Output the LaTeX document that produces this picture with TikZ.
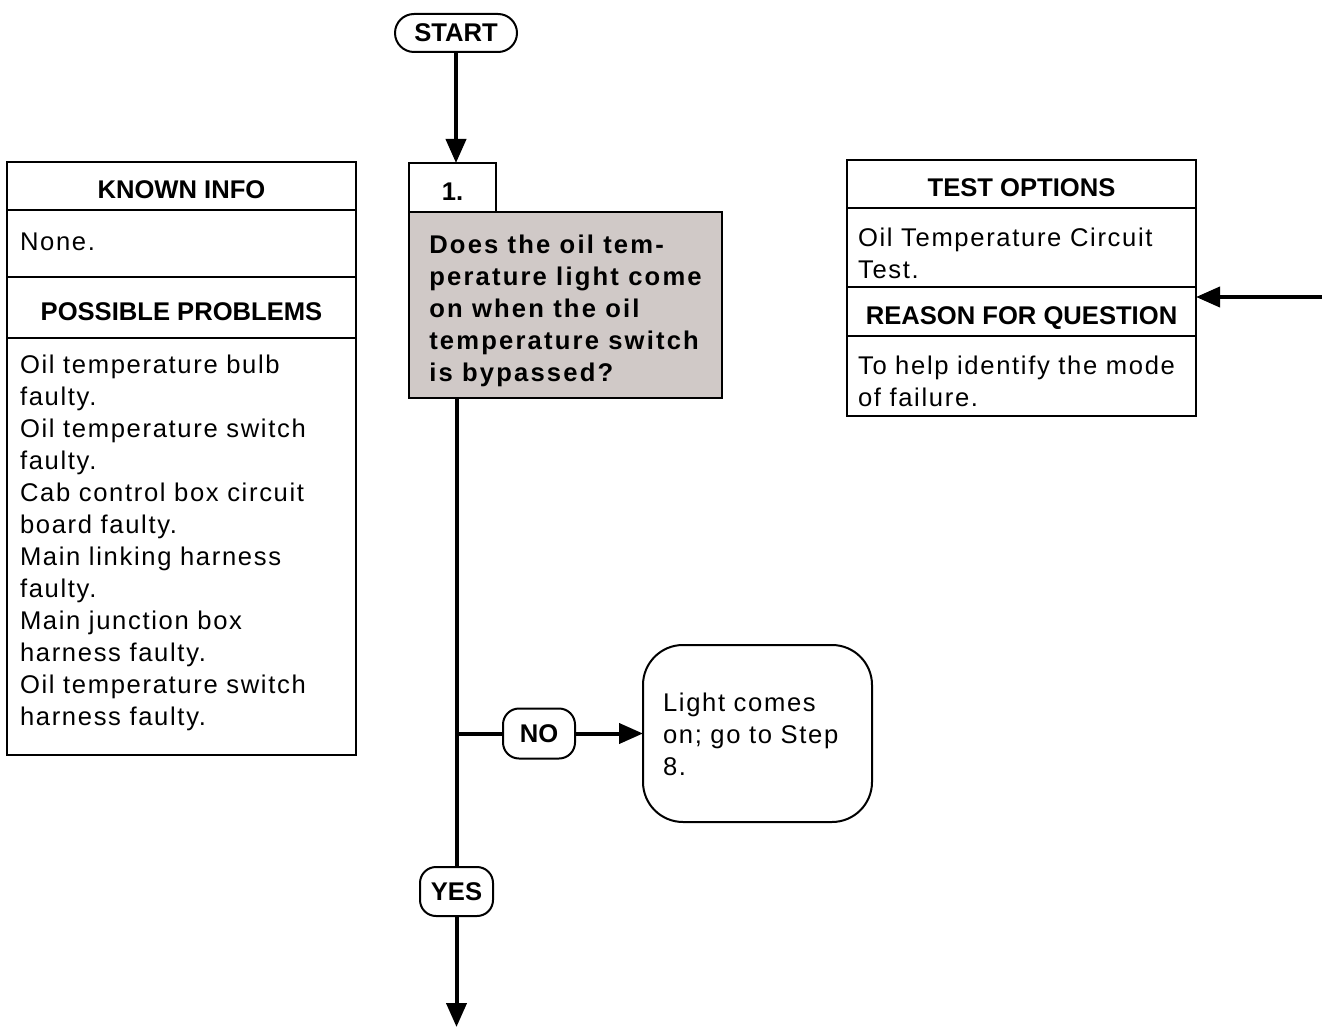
\documentclass[tikz,border=0pt]{standalone}
\usepackage{fontspec}
\setmainfont{Liberation Sans}
\newfontfamily\bodyfont{Liberation Sans}[LetterSpace=6.5]
\newfontfamily\askfont{Liberation Sans}[LetterSpace=8.5]
\usetikzlibrary{positioning,arrows.meta}
\definecolor{askgray}{RGB}{208,201,199}

\begin{document}
\begin{tikzpicture}[
    x=0.5pt, y=-0.5pt,
    hdr/.style={draw, line width=1pt, outer sep=0pt, minimum width=174.5pt,
                text height=12.8pt, text depth=0pt,
                font=\fontsize{12.8}{16}\selectfont\bfseries},
    cell/.style={draw, line width=1pt, outer sep=0pt, inner ysep=0pt,
                 align=left, font=\bodyfont\fontsize{12.8}{16}\selectfont},
    pill/.style={draw, line width=1pt, rounded corners=8pt,
                 font=\fontsize{12.8}{16}\selectfont\bfseries},
    arr/.style={-{Triangle[length=12pt,width=10pt]}, line width=2pt},
    wire/.style={line width=2pt},
  ]
  \useasboundingbox (0,0) rectangle (1322,1027);

  % Known info / possible problems
  \node[hdr, anchor=north west, minimum height=24pt] (known) at (7,162) {KNOWN INFO};
  \node[cell, below=0pt of known, inner xsep=6.5pt, text width=161.5pt,
        text height=20pt, text depth=13.5pt] (none) {None.};
  \node[hdr, below=0pt of none, minimum height=30.5pt] (possible) {POSSIBLE PROBLEMS};
  \node[cell, below=0pt of possible, inner xsep=6.5pt, text width=161.5pt,
        text height=17.5pt, text depth=191pt] (problems)
    {Oil temperature bulb\\faulty.\\Oil temperature switch\\faulty.\\
     Cab control box circuit\\board faulty.\\Main linking harness\\faulty.\\
     Main junction box\\harness faulty.\\Oil temperature switch\\harness faulty.};

  % Step 1
  \node[hdr, anchor=north west, minimum width=43.5pt, minimum height=24.5pt] (step) at (409,163) {1.};
  \node[cell, fill=askgray, anchor=north west, inner xsep=0pt, minimum width=156.5pt,
        text height=84.5pt, text depth=8.5pt,
        font=\askfont\fontsize{12.8}{16}\selectfont\bfseries] (question) at (step.south west)
    {Does the oil tem-\\perature light come\\on when the oil\\temperature switch\\is bypassed?};

  % Test options / reason
  \node[hdr, anchor=north west, minimum height=24pt] (testopt) at (847,160) {TEST OPTIONS};
  \node[cell, below=0pt of testopt, inner xsep=5.5pt, text width=163.5pt,
        text height=19.5pt, text depth=20pt] (tests) {Oil Temperature Circuit\\Test.};
  \node[hdr, below=0pt of tests, minimum height=24.5pt] (reason) {REASON FOR QUESTION};
  \node[cell, below=0pt of reason, inner xsep=5.5pt, text width=163.5pt,
        text height=19pt, text depth=21pt] (why) {To help identify the mode\\of failure.};

  % Flow
  \node[pill, rounded corners=9.5pt, minimum width=61pt, minimum height=19pt] (start) at (456,33) {START};
  \node[pill, minimum width=36pt, minimum height=25pt] (no) at (539,733.5) {NO};
  \node[pill, minimum width=36.5pt, minimum height=24.5pt] (yes) at (456.5,891.5) {YES};
  \node[cell, rounded corners=20pt, inner xsep=10pt, text width=94.5pt,
        text height=33pt, text depth=55.5pt] (light) at (757.5,733.5) {Light comes\\on; go to Step\\8.};
  \coordinate (exit) at (456.5,1027);
  \coordinate (feed) at (1322,297);

  \draw[arr] (start.south) -- (start.south |- step.north);
  \draw[wire] (yes.north |- question.south) -- (yes.north);
  \draw[arr] (yes.south) -- (exit);
  \draw[wire] (no.west -| yes.north) -- (no.west);
  \draw[arr] (no.east) -- (light.west);
  \draw[arr] (feed) -- (feed -| reason.east);

\end{tikzpicture}
\end{document}
